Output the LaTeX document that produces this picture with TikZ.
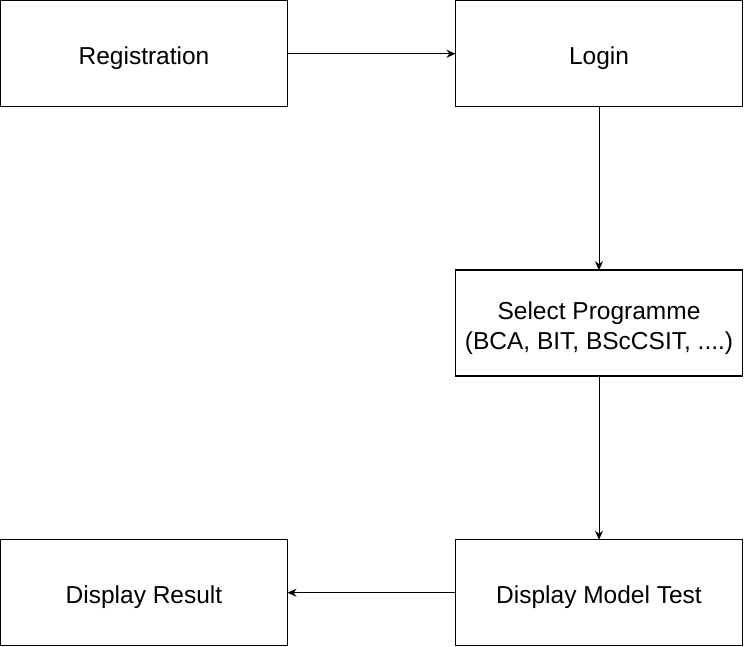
\documentclass[tikz,border=0pt]{standalone}
\usepackage{fontspec}
\setmainfont{Liberation Sans}
\usetikzlibrary{positioning,arrows.meta}

\begin{document}
\begin{tikzpicture}
   [x=1pt,y=1pt,
    step box/.style={rectangle,draw,line width=1.5pt,outer sep=0pt,inner sep=0pt,
     minimum width=287pt,minimum height=106pt,align=center,
     font=\fontsize{24.5}{29.5}\selectfont},
    flow/.style={-{Stealth[length=9pt,width=8pt]},line width=1pt}]

\useasboundingbox (0,0) rectangle (744,647);

\node [step box] at (144,593.25) (reg) {\rule{0pt}{27pt}Registration};
\node [step box,right=168pt of reg] (login) {\rule{0pt}{27pt}Login};
\node [step box,below=163.5pt of login] (prog) {\rule{0pt}{28pt}Select Programme\\(BCA, BIT, BScCSIT, ....)};
\node [step box,below=163.5pt of prog] (test) {\rule{0pt}{27pt}Display Model Test};
\node [step box,left=168pt of test] (result) {\rule{0pt}{27pt}Display Result};

\draw [flow] (reg.east) -- (login.west);
\draw [flow] (login.south) -- (prog.north);
\draw [flow] (prog.south) -- (test.north);
\draw [flow] (test.west) -- (result.east);
\end{tikzpicture}
\end{document}
